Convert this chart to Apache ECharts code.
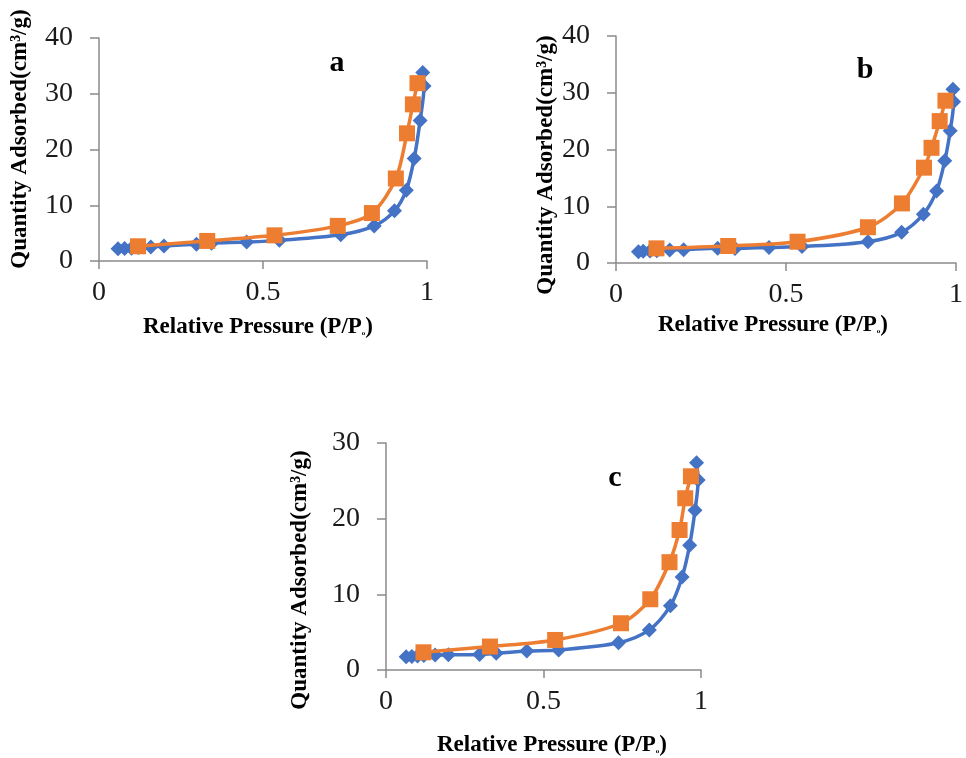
<!DOCTYPE html>
<html>
<head>
<meta charset="utf-8">
<script src="https://cdn.jsdelivr.net/npm/echarts@6/dist/echarts.min.js"></script>
<style>
html,body{margin:0;padding:0;background:#fff;}
#chart{width:966px;height:758px;}
</style>
</head>
<body>
<div id="chart"></div>
<script>
// ---- data ----
var panelLetters = ['a', 'b', 'c'];
var xTitle = 'Relative Pressure (P/P';
var yTitle = 'Quantity Adsorbed(cm\u00B3/g)';

var aAdsX = [0.058, 0.078, 0.099, 0.12, 0.158, 0.198, 0.297, 0.343, 0.45, 0.55, 0.737, 0.839, 0.901, 0.937, 0.961, 0.979, 0.991, 0.987];
var aAdsY = [2.2, 2.25, 2.3, 2.4, 2.5, 2.7, 3.0, 3.2, 3.4, 3.7, 4.7, 6.3, 9.0, 12.7, 18.4, 25.2, 31.4, 33.8];
var aDesX = [0.971, 0.957, 0.939, 0.905, 0.832, 0.728, 0.535, 0.33, 0.119];
var aDesY = [31.9, 28.1, 22.9, 14.8, 8.6, 6.3, 4.6, 3.6, 2.64];

var bAdsX = [0.066, 0.08, 0.1, 0.12, 0.158, 0.199, 0.299, 0.35, 0.45, 0.547, 0.741, 0.84, 0.904, 0.943, 0.967, 0.983, 0.993, 0.991];
var bAdsY = [2.0, 2.05, 2.1, 2.15, 2.3, 2.35, 2.6, 2.55, 2.75, 2.9, 3.75, 5.4, 8.6, 12.7, 18.0, 23.3, 28.4, 30.6];
var bDesX = [0.969, 0.952, 0.928, 0.906, 0.841, 0.741, 0.534, 0.33, 0.119];
var bDesY = [28.6, 25.0, 20.3, 16.8, 10.5, 6.3, 3.75, 3.0, 2.58];

var cAdsX = [0.064, 0.082, 0.1, 0.12, 0.156, 0.198, 0.297, 0.35, 0.447, 0.548, 0.738, 0.836, 0.903, 0.94, 0.964, 0.981, 0.991, 0.986];
var cAdsY = [1.76, 1.8, 1.85, 1.9, 1.99, 2.0, 2.05, 2.2, 2.5, 2.65, 3.6, 5.3, 8.5, 12.3, 16.5, 21.1, 25.1, 27.4];
var cDesX = [0.968, 0.95, 0.932, 0.9, 0.839, 0.746, 0.537, 0.33, 0.119];
var cDesY = [25.6, 22.7, 18.5, 14.25, 9.35, 6.18, 3.97, 3.1, 2.34];

var yMax = [40, 40, 30];
var yStep = 10;
var xMax = 1;
var xStep = 0.5;

// ---- build ----
function pairs(xs, ys) { return xs.map(function (x, i) { return [x, ys[i]]; }); }

var FONT = '"Liberation Serif", "Times New Roman", serif';
var BLUE = '#4472C4', ORANGE = '#ED7D31', AXIS = '#8a8a8a';

var grids = [
  { left: 99, top: 38, width: 328, height: 223 },
  { left: 616, top: 36, width: 343, height: 227 },
  { left: 386, top: 443, width: 315, height: 227 }
];

var xAxes = [], yAxes = [], series = [];
var ads = [[aAdsX, aAdsY], [bAdsX, bAdsY], [cAdsX, cAdsY]];
var des = [[aDesX, aDesY], [bDesX, bDesY], [cDesX, cDesY]];

for (var i = 0; i < 3; i++) {
  xAxes.push({
    type: 'value', gridIndex: i, min: 0, max: xMax, interval: xStep,
    axisLine: { show: true, onZero: false, lineStyle: { color: AXIS, width: 1.5 } },
    axisTick: { show: true, inside: false, length: 8, lineStyle: { color: AXIS, width: 1.5 } },
    axisLabel: { margin: 18, fontFamily: FONT, fontSize: 28, color: '#1a1a1a' },
    splitLine: { show: false }
  });
  yAxes.push({
    type: 'value', gridIndex: i, min: 0, max: yMax[i], interval: yStep,
    axisLine: { show: true, lineStyle: { color: AXIS, width: 1.5 } },
    axisTick: { show: true, inside: false, length: 9, lineStyle: { color: AXIS, width: 1.5 } },
    axisLabel: { margin: 26, fontFamily: FONT, fontSize: 28, color: '#1a1a1a' },
    splitLine: { show: false }
  });
  series.push({
    type: 'line', xAxisIndex: i, yAxisIndex: i, data: pairs(ads[i][0], ads[i][1]),
    smooth: 0.3, symbol: 'diamond', symbolSize: 15,
    lineStyle: { color: BLUE, width: 3.5 }, itemStyle: { color: BLUE }, z: 2
  });
  series.push({
    type: 'line', xAxisIndex: i, yAxisIndex: i, data: pairs(des[i][0], des[i][1]),
    smooth: 0.3, symbol: 'rect', symbolSize: 16,
    lineStyle: { color: ORANGE, width: 3.5 }, itemStyle: { color: ORANGE }, z: 3
  });
}

var xTitlePos = [[258, 327], [773, 325], [552, 745]];
var yTitlePos = [[20, 139], [546, 165], [300, 580]];
var letterPos = [[337, 63], [865, 70], [615, 478]];

var graphics = [];
for (var j = 0; j < 3; j++) {
  graphics.push({
    type: 'text', x: xTitlePos[j][0], y: xTitlePos[j][1],
    style: {
      text: '{m|' + xTitle + '}{s|o}{m|)}',
      align: 'center', verticalAlign: 'middle',
      rich: {
        m: { fontFamily: FONT, fontWeight: 'bold', fontSize: 23, fill: '#000' },
        s: { fontFamily: FONT, fontWeight: 'bold', fontSize: 7, fill: '#000', padding: [12, 0, 0, 0] }
      }
    }
  });
  graphics.push({
    type: 'text', x: yTitlePos[j][0], y: yTitlePos[j][1], rotation: Math.PI / 2,
    style: {
      text: yTitle, align: 'center', verticalAlign: 'middle',
      fontFamily: FONT, fontWeight: 'bold', fontSize: 23, fill: '#000'
    }
  });
  graphics.push({
    type: 'text', x: letterPos[j][0], y: letterPos[j][1],
    style: {
      text: panelLetters[j], align: 'center', verticalAlign: 'middle',
      fontFamily: FONT, fontWeight: 'bold', fontSize: 30, fill: '#000'
    }
  });
}

var chart = echarts.init(document.getElementById('chart'), null, { renderer: 'canvas' });
chart.setOption({
  animation: false,
  backgroundColor: '#ffffff',
  grid: grids,
  xAxis: xAxes,
  yAxis: yAxes,
  series: series,
  graphic: graphics
});
</script>
</body>
</html>
